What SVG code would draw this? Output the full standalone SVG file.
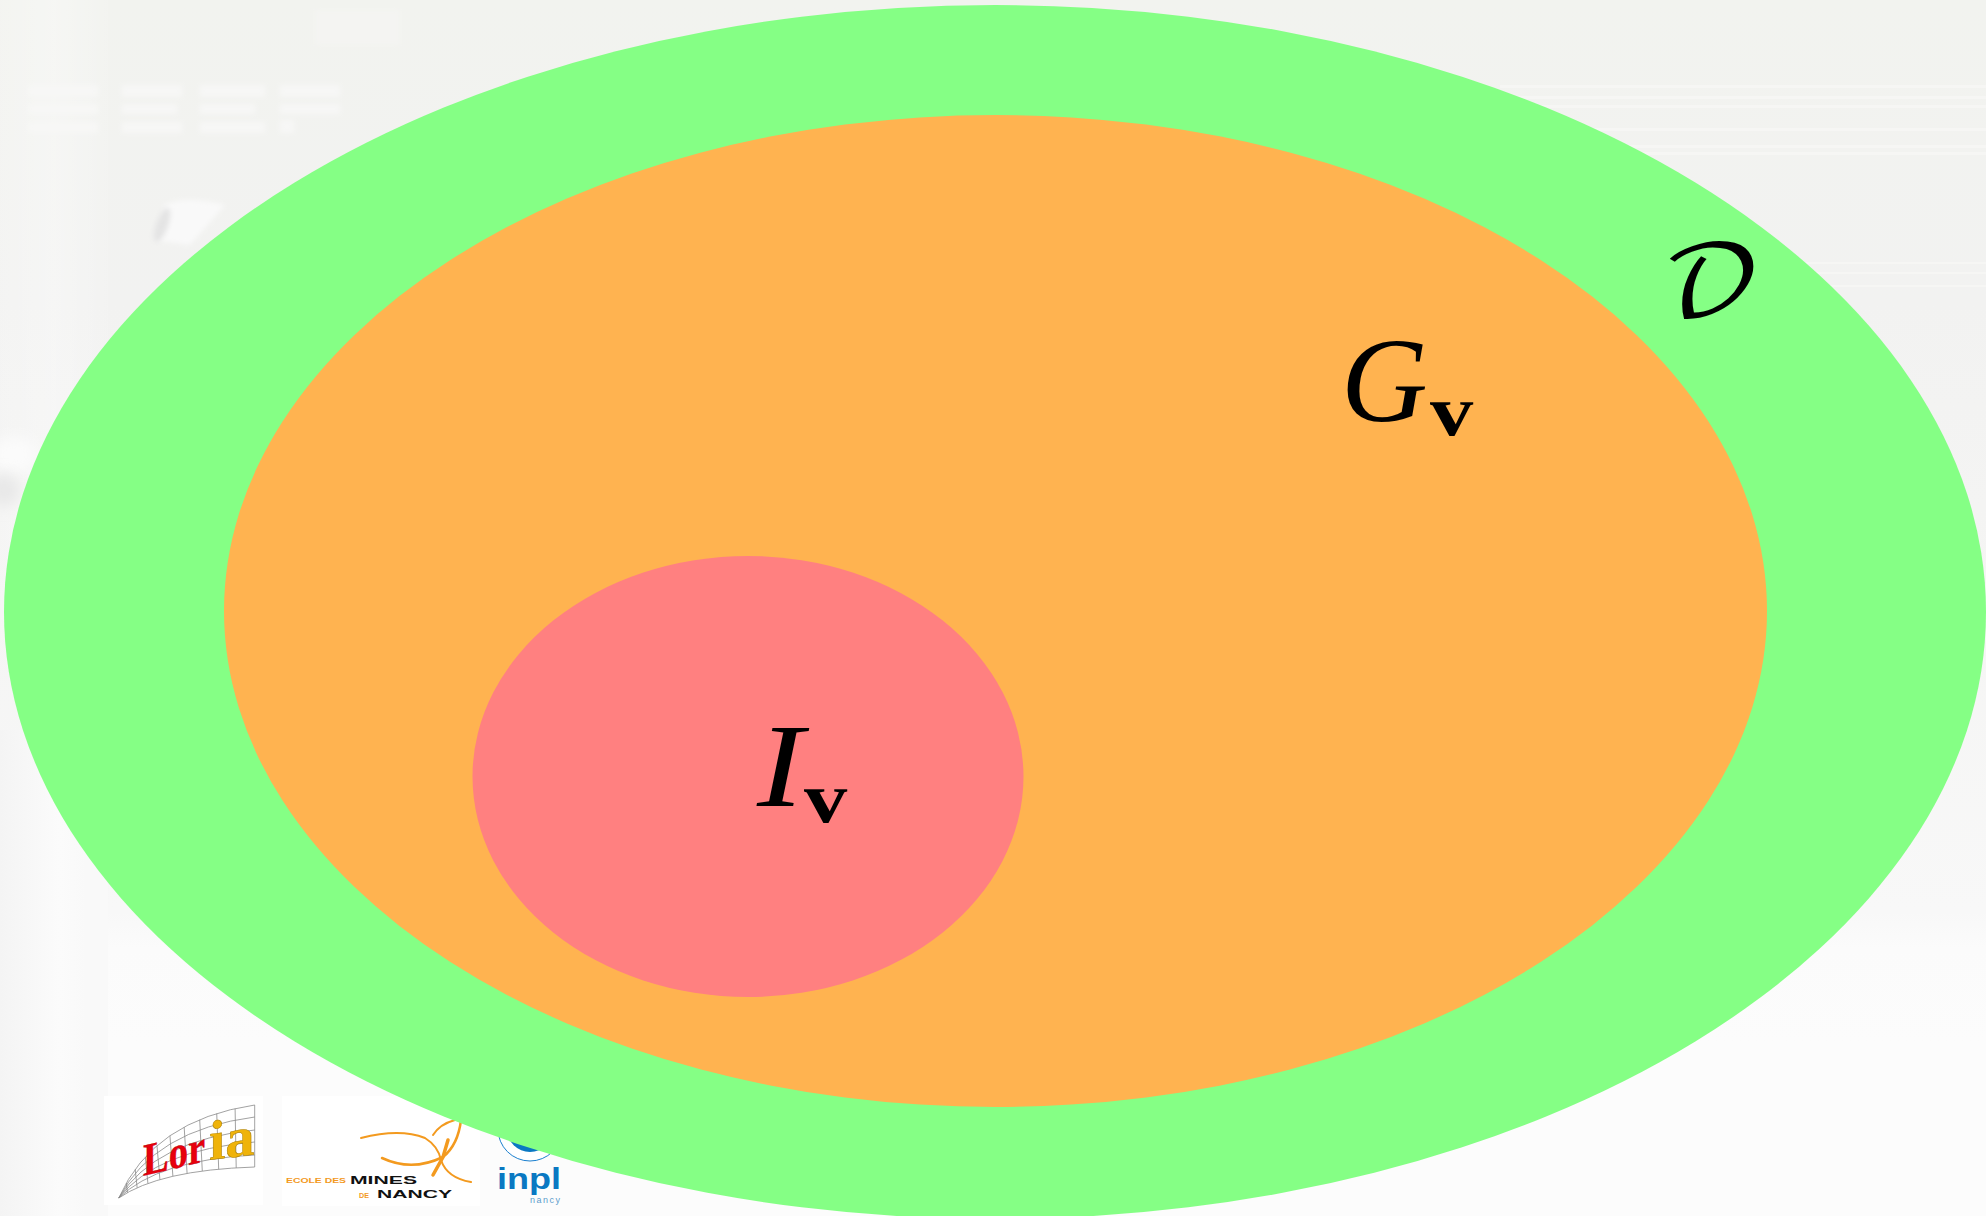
<svg xmlns="http://www.w3.org/2000/svg" width="1986" height="1216" viewBox="0 0 1986 1216">
<defs>
<linearGradient id="bg" x1="0" y1="0" x2="0" y2="1">
<stop offset="0" stop-color="#f2f3ef"/><stop offset="0.25" stop-color="#f2f2f1"/><stop offset="0.5" stop-color="#f5f5f4"/><stop offset="0.75" stop-color="#f8f8f8"/><stop offset="0.78" stop-color="#fbfbfb"/><stop offset="0.86" stop-color="#fcfcfc"/><stop offset="1" stop-color="#fcfcfc"/>
</linearGradient>
<linearGradient id="bandTop" x1="0" y1="0" x2="1" y2="0">
<stop offset="0" stop-color="#fff" stop-opacity="0.12"/><stop offset="0.5" stop-color="#fff" stop-opacity="0.3"/><stop offset="1" stop-color="#fff" stop-opacity="0.05"/>
</linearGradient>
<linearGradient id="bandLow" x1="0" y1="0" x2="1" y2="0">
<stop offset="0" stop-color="#f4f4f4"/><stop offset="0.55" stop-color="#fbfbfb"/><stop offset="0.8" stop-color="#f9f9f9"/><stop offset="1" stop-color="#f9f9f9"/>
</linearGradient>
<filter id="b2" x="-30%" y="-30%" width="160%" height="160%"><feGaussianBlur stdDeviation="2.500"/></filter>
<filter id="b6" x="-50%" y="-50%" width="200%" height="200%"><feGaussianBlur stdDeviation="7"/></filter>
</defs>
<style>
.m{font-family:"Liberation Serif","DejaVu Serif",serif;font-style:italic;fill:#000}
.v{font-family:"Liberation Serif","DejaVu Serif",serif;font-weight:700;fill:#000}
.script{font-family:"DejaVu Math TeX Gyre","Liberation Serif",serif;fill:#000}
.grid{fill:none;stroke:#8a8a8a;stroke-width:.8}
.o{fill:none;stroke:#f39a1f;stroke-linecap:round}
.sm{font-family:"Liberation Sans",Arial,sans-serif;font-weight:700}
.wm{fill:#f7f7f6}
.st{fill:#f6f6f4}
</style>
<g id="background">
<rect width="1986" height="1216" fill="url(#bg)"/>
<rect x="0" y="0" width="108" height="640" fill="url(#bandTop)"/>
<rect x="0" y="730" width="108" height="486" fill="url(#bandLow)"/>
<g filter="url(#b2)">
<rect class="wm" x="28" y="85" width="70" height="12"/><rect class="wm" x="28" y="104" width="70" height="10"/><rect class="wm" x="28" y="122" width="70" height="11"/>
<rect class="wm" x="122" y="85" width="60" height="12"/><rect class="wm" x="122" y="104" width="55" height="10"/><rect class="wm" x="122" y="122" width="60" height="11"/>
<rect class="wm" x="200" y="85" width="65" height="12"/><rect class="wm" x="200" y="104" width="55" height="10"/><rect class="wm" x="200" y="122" width="65" height="11"/>
<rect class="wm" x="280" y="85" width="60" height="12"/><rect class="wm" x="280" y="104" width="60" height="10"/><rect class="wm" x="280" y="120" width="14" height="13"/>
<rect x="315" y="10" width="85" height="35" fill="#f4f4f2"/>
</g>
<rect class="st" x="1500" y="85" width="486" height="3"/><rect class="st" x="1500" y="96" width="486" height="3"/><rect class="st" x="1500" y="105" width="486" height="3"/><rect class="st" x="1500" y="128" width="486" height="3"/><rect class="st" x="1500" y="145" width="486" height="3"/><rect class="st" x="1500" y="152" width="486" height="3"/><rect class="st" x="1800" y="262" width="186" height="2"/><rect class="st" x="1800" y="272" width="186" height="2"/><rect class="st" x="1800" y="285" width="186" height="2"/>
<path d="M165 205Q185 195 225 205L190 245L155 240Z" fill="#f9f9f9" filter="url(#b2)"/>
<ellipse cx="162" cy="225" rx="6" ry="18" transform="rotate(20 162 225)" fill="#e4e4e4" filter="url(#b2)"/>
<ellipse cx="14" cy="455" rx="24" ry="18" fill="#fbfbfb" filter="url(#b6)"/>
<ellipse cx="4" cy="490" rx="16" ry="16" fill="#e8e8e8" filter="url(#b6)"/>
</g>
<g id="logo-loria">
<rect x="104" y="1096" width="159" height="109" fill="#fff"/>
<g transform="scale(1.2245 1)">
<path class="grid" vector-effect="non-scaling-stroke" d="M97 1198Q125 1120 208 1105M97 1198Q129 1160 208 1155M97 1198Q128 1150 208 1142M97 1198Q127 1140 208 1130M97 1198Q126 1130 208 1117M97 1198Q130 1170 208 1167M208 1105V1167M192 1108.600L192.900 1167.900M177 1113.500L178.600 1169.200M163.100 1119.700L165.200 1171M150.400 1127.100L152.800 1173.400M138.800 1135.800L141.200 1176.200M128.200 1145.700L130.600 1179.600M118.700 1156.900L120.800 1183.400M110.400 1169.300L112 1187.800M103.200 1183L104.100 1192.700"/>
</g>
<text class="v" transform="matrix(.84 -.2 0 1 143 1176)" font-size="46" style="fill:#e8000d" stroke="#b00008" stroke-width=".4">Lor</text>
<text class="v" transform="matrix(1.05 -.13 0 1 209 1160)" font-size="56" style="fill:#efb30a" stroke="#a87c00" stroke-width=".5">ia</text>
</g>
<g id="logo-mines">
<rect x="282" y="1096" width="198" height="110" fill="#fff"/>
<path class="o" stroke-width="2" d="M361 1138Q400 1128 425 1138Q438 1146 441 1160Q447 1178 471 1182"/>
<path class="o" stroke-width="2.500" d="M382 1158Q412 1172 443 1157Q458 1145 461 1120"/>
<path class="o" stroke-width="3.500" d="M433 1175L443 1157L448 1140"/>
<path class="o" stroke-width="2" d="M433 1135Q440 1124 455 1120"/>
<text class="sm" x="286" y="1183" font-size="7" fill="#f39a1f" textLength="60" lengthAdjust="spacingAndGlyphs">ECOLE DES</text>
<text class="sm" x="350" y="1184" font-size="11" fill="#111" textLength="67" lengthAdjust="spacingAndGlyphs">MINES</text>
<text class="sm" x="359" y="1198" font-size="7" fill="#f39a1f" textLength="10" lengthAdjust="spacingAndGlyphs">DE</text>
<text class="sm" x="377" y="1198" font-size="11" fill="#111" textLength="75" lengthAdjust="spacingAndGlyphs">NANCY</text>
</g>
<g id="logo-inpl">
<circle cx="530" cy="1129" r="32" fill="#fff" stroke="#1a7fcf" stroke-width="1"/>
<circle cx="530" cy="1129" r="23" fill="#0a78c2"/>
<text x="497" y="1189" font-family="Liberation Sans,sans-serif" font-weight="700" font-size="29" fill="#0a78c2" textLength="64" lengthAdjust="spacingAndGlyphs">inpl</text>
<text x="530" y="1203" font-family="Liberation Sans,sans-serif" font-size="9" fill="#5c9ccc" textLength="30">nancy</text>
</g>
<g id="node-D">
<ellipse cx="995" cy="612" rx="991" ry="607" fill="#85ff85"/>
<text class="script" transform="translate(1661 316) scale(1.13 1)" font-size="97">𝒟</text>
</g>
<g id="node-Gv">
<ellipse cx="995.500" cy="611" rx="771.500" ry="496" fill="#ffb350"/>
<text class="m" x="1341" y="421" font-size="120">G</text>
<text class="v" transform="translate(1430 435) scale(1.2 1)" font-size="72">v</text>
</g>
<g id="node-Iv">
<ellipse cx="748" cy="776.500" rx="275.500" ry="220.500" fill="#ff8080"/>
<text class="m" transform="translate(757 806) scale(1.19 1)" font-size="118">I</text>
<text class="v" transform="translate(804 822) scale(1.2 1)" font-size="72">v</text>
</g>
<g id="connectors"/>
</svg>
